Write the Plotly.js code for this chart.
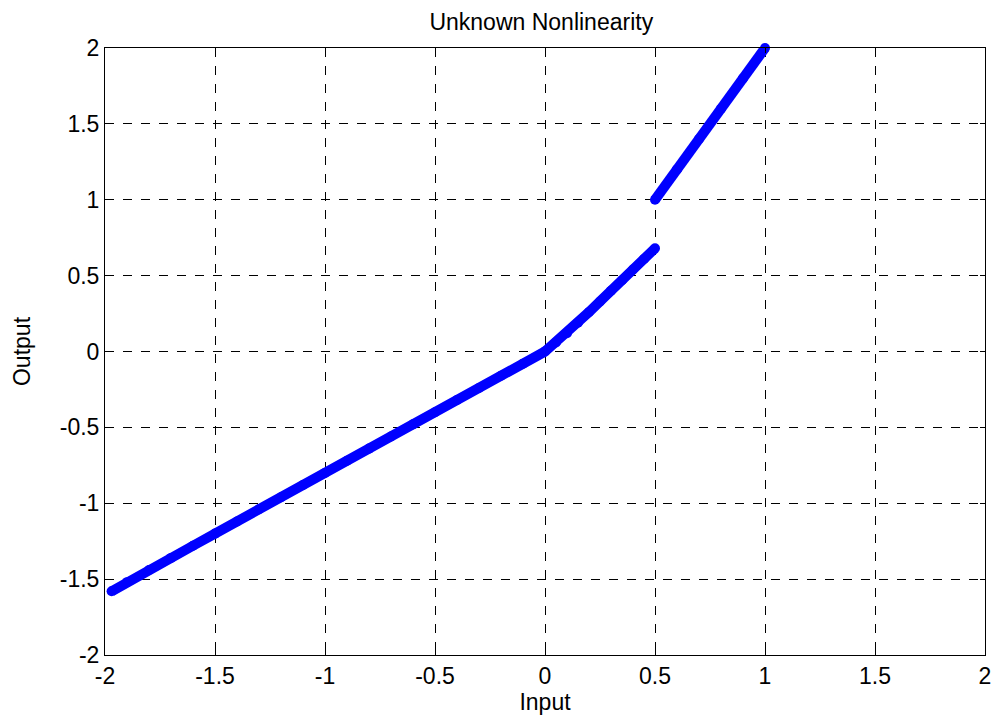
<!DOCTYPE html>
<html>
<head>
<meta charset="utf-8">
<script src="https://cdn.plot.ly/plotly-3.0.1.min.js"></script>
<style>html,body{margin:0;padding:0;background:#fff;}#chart{width:995px;height:719px;}</style>
</head>
<body>
<div id="chart"></div>
<script>
// Segment 1: negative inputs
var xNeg = [-1.97, -1.9, -1.8, -1.7, -1.6, -1.5, -1.4, -1.3, -1.2, -1.1, -1.0, -0.9, -0.8, -0.7, -0.6, -0.5, -0.4, -0.3, -0.2, -0.1, 0.0];
var yNeg = [-1.58, -1.52, -1.44, -1.36, -1.28, -1.2, -1.12, -1.04, -0.96, -0.88, -0.8, -0.72, -0.64, -0.56, -0.48, -0.4, -0.32, -0.24, -0.16, -0.08, 0.0];
// Segment 2: 0 .. 0.5
var xMid = [0.0, 0.05, 0.1, 0.15, 0.2, 0.25, 0.3, 0.35, 0.4, 0.45, 0.5];
var yMid = [0.0, 0.06, 0.12, 0.19, 0.26, 0.33, 0.40, 0.47, 0.54, 0.61, 0.68];
// Segment 3: 0.5 .. 1
var xHigh = [0.5, 0.6, 0.7, 0.8, 0.9, 1.0];
var yHigh = [1.0, 1.2, 1.4, 1.6, 1.8, 2.0];

var tickVals = [-2, -1.5, -1, -0.5, 0, 0.5, 1, 1.5, 2];
var tickText = ['-2', '-1.5', '-1', '-0.5', '0', '0.5', '1', '1.5', '2'];

var blue = '#0000ff';
function seg(x, y) {
  return {x: x, y: y, type: 'scatter', mode: 'lines+markers',
    line: {color: blue, width: 10},
    marker: {color: blue, size: 10},
    showlegend: false, hoverinfo: 'none', cliponaxis: false};
}
var data = [seg(xNeg, yNeg), seg(xMid, yMid), seg(xHigh, yHigh)];

var fam = 'Liberation Sans, Arial, sans-serif';
var axisCommon = {
  tickvals: tickVals, ticktext: tickText,
  ticks: 'inside', ticklen: 5, tickcolor: '#000', tickwidth: 1,
  showline: true, linecolor: '#000', linewidth: 1, mirror: 'ticks',
  showgrid: true, gridcolor: '#000', gridwidth: 1, griddash: 'dash',
  zeroline: false,
  tickfont: {family: fam, size: 23, color: '#000'}
};

var layout = {
  width: 995, height: 719,
  margin: {l: 105, r: 10, t: 48, b: 64},
  paper_bgcolor: '#fff', plot_bgcolor: '#fff',
  font: {family: fam, color: '#000'},
  title: {text: 'Unknown Nonlinearity', font: {size: 23, color: '#000'}, x: 0.544, xanchor: 'center', y: 0.97, yanchor: 'middle'},
  xaxis: Object.assign({}, axisCommon, {range: [-2, 2], ticklabelstandoff: 0, title: {text: 'Input', font: {size: 23}, standoff: 4}}),
  yaxis: Object.assign({}, axisCommon, {range: [-2, 2], title: {text: 'Output', font: {size: 23}, standoff: 22}})
};

Plotly.newPlot('chart', data, layout, {displayModeBar: false, staticPlot: true});
</script>
</body>
</html>
